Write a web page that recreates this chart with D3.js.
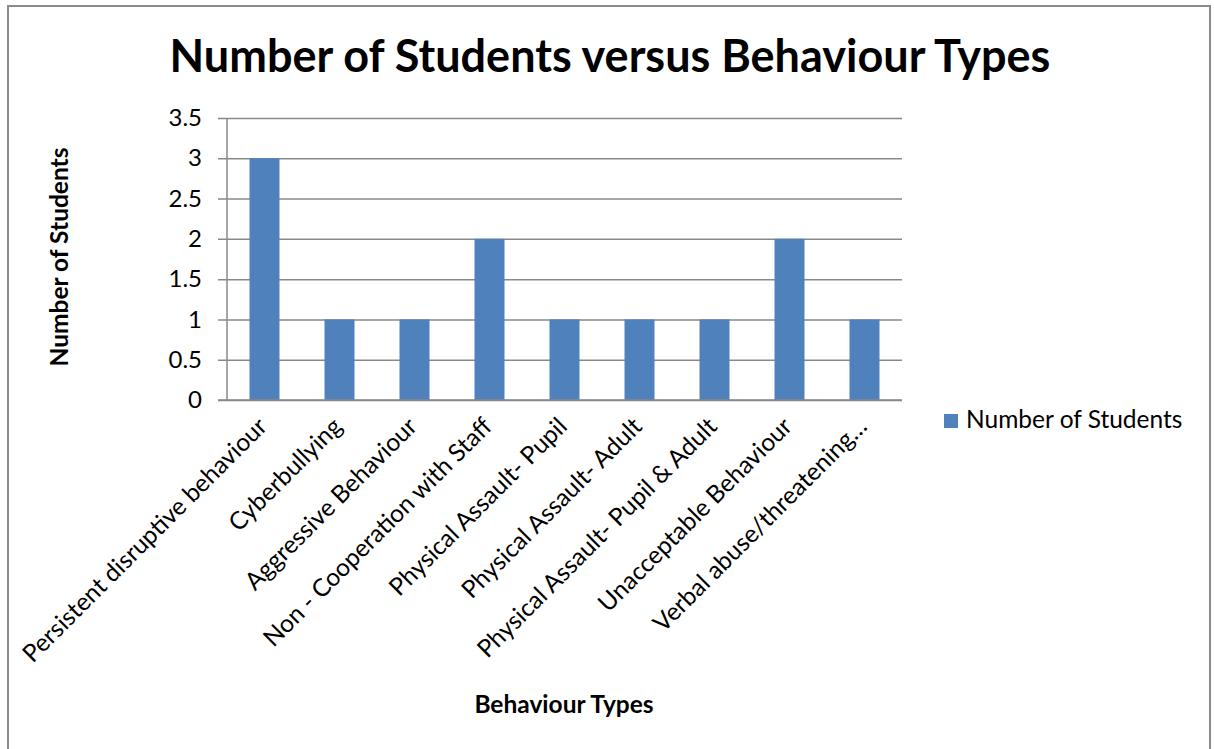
<!DOCTYPE html>
<html>
<head>
<meta charset="utf-8">
<script src="https://cdn.jsdelivr.net/npm/d3@7"></script>
<style>
  html, body { margin: 0; padding: 0; background: #fff; }
  svg { display: block; }
  text { font-family: Lato, "Open Sans", sans-serif; fill: #000; }
</style>
</head>
<body>
<svg id="chart" width="1214" height="749"></svg>
<script>
// Behaviour categories and the number of students recorded for each
const categories = [
  "Persistent disruptive behaviour",
  "Cyberbullying",
  "Aggressive Behaviour",
  "Non - Cooperation with Staff",
  "Physical Assault- Pupil",
  "Physical Assault- Adult",
  "Physical Assault- Pupil & Adult",
  "Unacceptable Behaviour",
  "Verbal abuse/threatening…"
];
const students = [3, 1, 1, 2, 1, 1, 1, 2, 1];
const yTicks = [0, 0.5, 1, 1.5, 2, 2.5, 3, 3.5];

const chartTitle = "Number of Students versus Behaviour Types";
const xTitle = "Behaviour Types";
const yTitle = "Number of Students";
const seriesName = "Number of Students";

const W = 1214, H = 749;
const plot = { left: 227, right: 902, top: 118, bottom: 400 };
const barColor = "#4F81BD";
const gridColor = "#898989";

const svg = d3.select("#chart");

// outer chart frame
svg.append("rect")
  .attr("x", 8).attr("y", 6)
  .attr("width", 1202).attr("height", 760)
  .attr("fill", "#fff")
  .attr("stroke", "#8c8c8c")
  .attr("stroke-width", 2);

const x = d3.scaleBand()
  .domain(categories)
  .range([plot.left, plot.right])
  .paddingInner(0.6)
  .paddingOuter(0.3);

const y = d3.scaleLinear()
  .domain([0, 3.5])
  .range([plot.bottom, plot.top]);

// horizontal gridlines with small outside ticks
const yAxis = d3.axisLeft(y)
  .tickValues(yTicks)
  .tickFormat(d => String(d))
  .tickSize(-(plot.right - plot.left))
  .tickPadding(25);

const gy = svg.append("g")
  .attr("transform", `translate(${plot.left},0)`)
  .call(yAxis);
gy.select(".domain").remove();
gy.selectAll(".tick line")
  .attr("x1", -9)
  .attr("stroke", gridColor)
  .attr("stroke-width", 1.5);
gy.selectAll(".tick text")
  .attr("font-size", 24)
  .attr("font-family", "Lato, sans-serif")
  .attr("fill", "#000");

// vertical axis line
svg.append("line")
  .attr("x1", plot.left).attr("x2", plot.left)
  .attr("y1", plot.top).attr("y2", plot.bottom)
  .attr("stroke", gridColor).attr("stroke-width", 1.5);

// bars
svg.append("g").selectAll("rect")
  .data(categories)
  .join("rect")
  .attr("x", d => x(d))
  .attr("width", x.bandwidth())
  .attr("y", (d, i) => y(students[i]))
  .attr("height", (d, i) => y(0) - y(students[i]))
  .attr("fill", barColor);

// baseline drawn over the bars
svg.append("line")
  .attr("x1", plot.left - 9).attr("x2", plot.right)
  .attr("y1", plot.bottom).attr("y2", plot.bottom)
  .attr("stroke", gridColor).attr("stroke-width", 1.5);

// rotated category labels
svg.append("g").selectAll("text")
  .data(categories)
  .join("text")
  .attr("transform", d => `translate(${x(d) + x.bandwidth() / 2 + 4},${plot.bottom + 28}) rotate(-45)`)
  .attr("text-anchor", "end")
  .attr("font-size", 24.5)
  .text(d => d);

// title
svg.append("text")
  .attr("x", 610).attr("y", 72)
  .attr("text-anchor", "middle")
  .attr("font-size", 45)
  .attr("font-weight", "bold")
  .text(chartTitle);

// axis titles
svg.append("text")
  .attr("transform", "translate(68,257) rotate(-90)")
  .attr("text-anchor", "middle")
  .attr("font-size", 24.5)
  .attr("font-weight", "bold")
  .text(yTitle);

svg.append("text")
  .attr("x", 564).attr("y", 713)
  .attr("text-anchor", "middle")
  .attr("font-size", 24.5)
  .attr("font-weight", "bold")
  .text(xTitle);

// legend
const lg = svg.append("g").attr("transform", "translate(944,414)");
lg.append("rect").attr("width", 14).attr("height", 14).attr("fill", barColor);
lg.append("text").attr("x", 22).attr("y", 14).attr("font-size", 24.5).text(seriesName);
</script>
</body>
</html>
